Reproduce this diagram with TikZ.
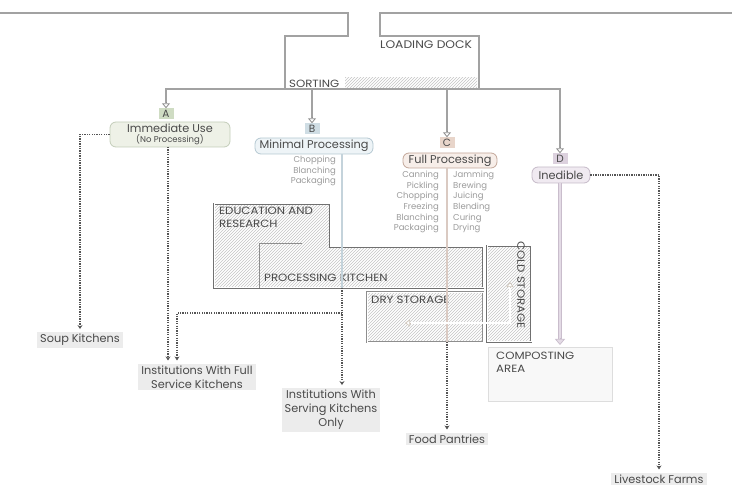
\documentclass[tikz,border=0pt]{standalone}
\usepackage{fontspec}
\setmainfont{Poppins}
\newfontfamily\roomfont{Poppins}[FakeStretch=1.12]
\usetikzlibrary{arrows.meta,patterns,calc}
\definecolor{txt}{HTML}{4A4A4A}
\definecolor{subc}{HTML}{9A9A9A}
\definecolor{dockgray}{HTML}{8E8E8E}
\definecolor{dockline}{HTML}{A2A2A2}
\definecolor{roomgray}{HTML}{707070}
\definecolor{hatchc}{HTML}{C4C4C4}
\definecolor{dotc}{HTML}{555555}
\definecolor{destc}{HTML}{ECECEC}
\definecolor{Afill}{HTML}{CFDCC3}
\definecolor{Ibox}{HTML}{EEF1E7}
\definecolor{Iline}{HTML}{C3CDB9}
\definecolor{Bfill}{HTML}{CFDDE4}
\definecolor{Mbox}{HTML}{EEF4F7}
\definecolor{Mline}{HTML}{B5C8D2}
\definecolor{Cfill}{HTML}{E8D5CA}
\definecolor{Fbox}{HTML}{F7EEE9}
\definecolor{Fline}{HTML}{C2A799}
\definecolor{Dfill}{HTML}{DCD1DE}
\definecolor{Nbox}{HTML}{F0EAF1}
\definecolor{Nline}{HTML}{C5BAC8}
\definecolor{lavc}{HTML}{C9BDCC}
\definecolor{lavl}{HTML}{E4DBE6}
\definecolor{coldc}{HTML}{D0C7BC}
\definecolor{compb}{HTML}{DDDDDD}
\definecolor{compf}{HTML}{F8F8F8}
\tikzset{
 htip/.style={draw=dockgray, line width=0.8pt, -{Triangle[length=5pt,width=8pt,fill=white]}},
 hatch/.style={pattern=north east lines, pattern color=hatchc},
 dots/.style={draw=dotc, line width=1.3pt, dash pattern=on 1.3pt off 1.1pt, -{Stealth[length=4pt,width=5pt]}, shorten >=3pt},
 tag/.style={inner sep=0pt, minimum width=15pt, minimum height=11pt, text=txt, font=\fontsize{10.5}{12}\selectfont},
 cat/.style={rounded corners=6pt, line width=0.8pt, text=txt, align=center, inner sep=1pt, font=\fontsize{11.3}{12}\selectfont},
 dest/.style={fill=destc, text=txt, align=center, font=\fontsize{11.3}{14}\selectfont, inner xsep=3pt, inner ysep=2pt},
 room/.style={text=txt, font=\roomfont\fontsize{10.5}{13}\selectfont, inner sep=0pt, align=left},
 sub/.style={text=subc, font=\fontsize{8.5}{10.6}\selectfont, inner sep=0pt},
 procline/.style={line width=1.8pt},
}
\begin{document}
\begin{tikzpicture}[x=1pt,y=-1pt]
\useasboundingbox (0,0) rectangle (732,486);

% ---- building: entrance walls, loading dock and sorting
\coordinate (Apos) at (166,114);
\coordinate (Bpos) at (312,129);
\coordinate (Cpos) at (447,143);
\coordinate (Dpos) at (560,159);
\coordinate (sb) at (300,89);
\draw[draw=dockline, line width=1.7pt, shorten >=11pt] (0,13) -- (348,13) -- (348,36) -- (285,36) -- (285,89) -| (Apos);
\draw[draw=dockline, line width=1.7pt, shorten >=11pt] (732,13) -- (380,13) -- (380,36) -- (479,36) -- (479,89) -| (Dpos);
\draw[draw=dockline, line width=1.7pt] (285,89) -- (479,89);
\draw[draw=dockline, line width=1.7pt, shorten >=11pt] (Bpos |- sb) -- (Bpos);
\draw[draw=dockline, line width=1.7pt, shorten >=11pt] (Cpos |- sb) -- (Cpos);
\fill[hatch] (345,78) rectangle (477,87.5);
\node[tag, fill=Afill] (A) at (Apos) {A};
\node[tag, fill=Bfill] (B) at (Bpos) {B};
\node[tag, fill=Cfill] (C) at (Cpos) {C};
\node[tag, fill=Dfill] (D) at (Dpos) {D};
\draw[htip] ([yshift=6pt]A.north) -- (A.north);
\draw[htip] ([yshift=6pt]B.north) -- (B.north);
\draw[htip] ([yshift=6pt]C.north) -- (C.north);
\draw[htip] ([yshift=6pt]D.north) -- (D.north);
\node[room, anchor=west, font=\roomfont\fontsize{11}{13}\selectfont] (dockt) at (380,45) {LOADING DOCK};
\node[room, anchor=west, fill=white, inner xsep=1pt] (sortt) at (288,84) {SORTING};

% ---- category boxes
\node[cat, fill=Ibox, draw=Iline, minimum width=120pt, minimum height=25pt] (imm) at (170,134.5)
  {Immediate Use\\[-2pt]{\fontsize{8.5}{9}\selectfont (No Processing)}};
\node[cat, fill=Mbox, draw=Mline, minimum width=118pt, minimum height=16pt] (mp) at (314,146) {Minimal Processing};
\node[cat, fill=Fbox, draw=Fline, minimum width=94pt, minimum height=15pt] (fp) at (450,160.5) {Full Processing};
\node[cat, fill=Nbox, draw=Nline, minimum width=58pt, minimum height=16pt] (ined) at (561,175) {Inedible};

% ---- rooms
\fill[hatch] (214,204) -- (330,204) -- (330,247) -- (483,247) -- (483,288) -- (214,288) -- cycle;
\fill[hatch] (367,292) rectangle (483,342);
\fill[hatch] (487,246) rectangle (531,342);
\draw[draw=roomgray, line width=2.6pt] (214,204) -- (330,204) -- (330,247) -- (483,247) -- (483,288) -- (214,288) -- cycle;
\draw[draw=white, line width=1.0pt] (214,204) -- (330,204) -- (330,247) -- (483,247) -- (483,288) -- (214,288) -- cycle;
\draw[draw=roomgray, line width=2.6pt] (487,246) rectangle (531,342);
\draw[draw=white, line width=1.0pt] (487,246) rectangle (531,342);
\draw[draw=roomgray!80, line width=0.9pt] (302,243) -- (259,243) -- (259,288);
\draw[draw=dockgray, line width=2.2pt] (367,292) rectangle (483,342);
\draw[draw=white, line width=0.8pt] (367,292) rectangle (483,342);
\node[draw=compb, fill=compf, line width=0.8pt, minimum width=124pt, minimum height=54pt, anchor=north west] (comp) at (488,347) {};

\node[room, anchor=north west] (edu) at (219,207) {EDUCATION AND\\RESEARCH};
\node[room, anchor=west] (pk) at (264,278) {PROCESSING KITCHEN};
\node[room, anchor=west] (ds) at (371,300) {DRY STORAGE};
\node[room, rotate=-90] (cs) at (521,285) {COLD STORAGE};
\node[room, anchor=north west] (compt) at (496,352) {COMPOSTING\\AREA};

% ---- internal flows
\coordinate (k1) at (342,288);
\coordinate (k2) at (342,313);
\coordinate (d1) at (447,342);
\coordinate (ld) at (560,345);
\coordinate (f2) at (177,320);
\coordinate (i1) at (168,147);
\draw[procline, draw=Mline!80] (k1 |- mp.south) -- (k1);
\draw[procline, draw=Fline!60] (d1 |- fp.south) -- (d1);
\draw[draw=lavc, line width=3.4pt, shorten >=6pt] (ld |- ined.south) -- (ld);
\draw[draw=lavl, line width=2pt, shorten >=6pt] (ld |- ined.south) -- (ld);
\draw[draw=lavc, line width=0.7pt, -{Triangle[length=6pt,width=10pt,fill=lavl]}] ($(ld)+(0,-7)$) -- (ld);
\coordinate (cA) at (405,323);
\coordinate (cB) at (510,323);
\coordinate (cC) at (510,282);
\draw[draw=coldc, line width=2.6pt, shorten <=5pt, shorten >=5pt] (cA) -- (cB) -- (cC);
\draw[draw=white, line width=1.2pt, shorten <=5pt, shorten >=5pt] (cA) -- (cB) -- (cC);
\draw[draw=coldc, line width=0.7pt, -{Triangle[length=5pt,width=7pt,fill=white]}] ($(cA)+(6,0)$) -- (cA);
\draw[draw=coldc, line width=0.7pt, -{Triangle[length=5pt,width=7pt,fill=white]}] ($(cC)+(0,6)$) -- (cC);

% ---- sub texts
\node[sub, anchor=north east, align=right] (mpsub) at (336,156) {Chopping\\Blanching\\Packaging};
\node[sub, anchor=north east, align=right] (fpl) at (439,171) {Canning\\Pickling\\Chopping\\Freezing\\Blanching\\Packaging};
\node[sub, anchor=north west, align=left] (fpr) at (453,171) {Jamming\\Brewing\\Juicing\\Blending\\Curing\\Drying};

% ---- destinations
\node[dest] (soup) at (80,340) {Soup Kitchens};
\node[dest] (full) at (197,377) {Institutions With Full\\Service Kitchens};
\node[dest] (serv) at (331,410) {Institutions With\\Serving Kitchens\\Only};
\node[dest] (pant) at (447,439) {Food Pantries};
\node[dest] (live) at (659,479) {Livestock Farms};

\draw[dots] (imm.west) -| (soup.north);
\draw[dots] (i1) -- (i1 |- full.north);
\draw[dots] (k1) -- (k1 |- serv.north);
\draw[dots] (k2) -| (f2 |- full.north);
\draw[dots] (d1) -- (d1 |- pant.north);
\draw[dots] (ined.east) -| (live.north);
\end{tikzpicture}
\end{document}
